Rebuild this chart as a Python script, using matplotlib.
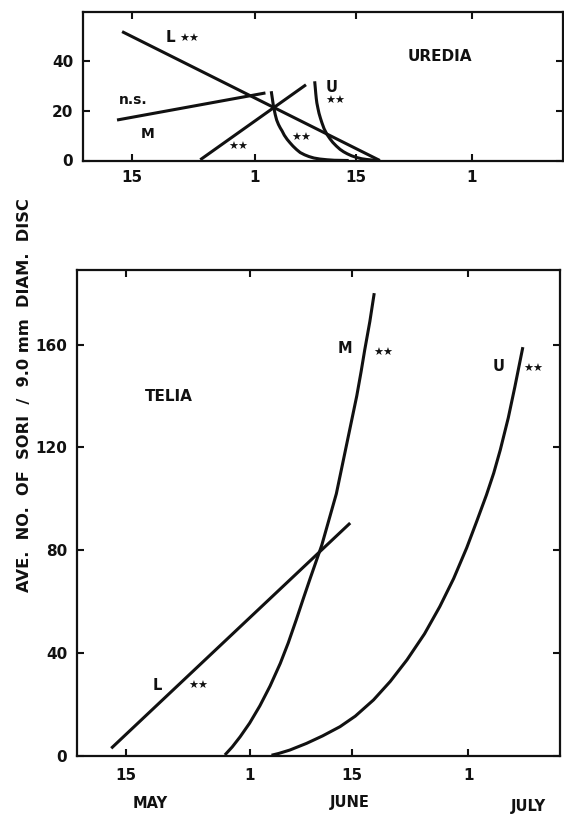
import matplotlib
matplotlib.use("Agg")
import matplotlib.pyplot as plt

# days counted from 30 April (15 = 15 May, 32 = 1 June, 46 = 15 June, 62 = 1 July)
tick_days = [15, 32, 46, 62]
tick_labels = ["15", "1", "15", "1"]
months = ["MAY", "JUNE", "JULY"]

# uredia panel
ured_L_days = [13.7, 49.3]
ured_L_vals = [51.9, 0.0]
ured_M_days = [13.0, 33.5]
ured_M_vals = [16.3, 27.2]
ured_rise_days = [24.5, 39.1]
ured_rise_vals = [0.3, 30.5]
ured_mid_days = [34.3, 34.45, 34.6, 34.85, 35.05, 35.3, 35.55, 35.8, 36.1, 36.5,
                 36.9, 37.3, 37.8, 38.3, 38.9, 39.5, 40.2, 41.0, 42.0, 43.0, 45.0]
ured_mid_vals = [27.9, 25.0, 22.0, 18.5, 16.3, 14.5, 13.1, 11.9, 10.2, 8.5,
                 7.1, 5.8, 4.4, 3.2, 2.3, 1.6, 1.0, 0.6, 0.3, 0.1, 0.0]
ured_U_days = [40.3, 40.38, 40.45, 40.52, 40.6, 40.75, 40.9, 41.1, 41.3, 41.6, 42.0,
               42.4, 42.8, 43.3, 43.8, 44.3, 44.8, 45.4, 46.1, 46.8, 47.5, 48.4, 49.3]
ured_U_vals = [31.9, 29.4, 27.0, 25.0, 23.2, 21.0, 19.0, 17.0, 15.2, 12.8, 10.5,
               8.8, 7.3, 5.8, 4.5, 3.5, 2.7, 1.9, 1.2, 0.7, 0.4, 0.15, 0.0]

# telia panel
tel_L_days = [13.0, 45.8]
tel_L_vals = [3.0, 90.6]
tel_M_days = [28.6, 29.6, 30.7, 32.0, 33.4, 34.8, 36.2, 37.3, 38.4, 39.4, 40.3, 41.1,
              41.9, 42.9, 43.9, 44.6, 45.3, 46.0, 46.7, 47.3, 47.8, 48.5, 49.1]
tel_M_vals = [0.4, 3.5, 7.5, 12.8, 19.5, 27.2, 36.0, 44.0, 53.0, 61.5, 69.0, 75.5,
              82.0, 92.0, 102.0, 111.5, 121.0, 130.5, 140.0, 149.5, 158.0, 169.0, 180.0]
tel_U_days = [35.0, 36.0, 37.5, 39.8, 42.0, 44.4, 46.5, 49.0, 51.3, 53.6, 56.0, 58.1,
              60.0, 61.8, 63.2, 64.5, 65.5, 66.4, 67.5, 68.4, 69.5]
tel_U_vals = [0.3, 1.0, 2.3, 4.9, 7.8, 11.4, 15.5, 21.8, 29.0, 37.4, 47.5, 58.1,
              69.0, 81.0, 91.5, 101.5, 110.0, 119.0, 131.5, 143.5, 159.0]

ink = "#111111"
fw = "bold"

fig = plt.figure(figsize=(5.64, 8.14), dpi=100)
fig.patch.set_facecolor("white")

ax1 = fig.add_axes([83 / 564, 1 - 160.5 / 814, 480 / 564, 149 / 814])
ax2 = fig.add_axes([77 / 564, 1 - 756 / 814, 483 / 564, 486 / 814])

for ax in (ax1, ax2):
    ax.set_xlim(8.3, 74.6)
    ax.set_xticks(tick_days)
    ax.set_xticklabels(tick_labels)
    ax.tick_params(direction="in", length=5, width=1.5, top=True, right=True,
                   labelsize=11, colors=ink, pad=7)
    for s in ax.spines.values():
        s.set_linewidth(1.6)
        s.set_color(ink)

ax1.set_ylim(0, 60)
ax1.set_yticks([0, 20, 40])
ax2.set_ylim(0, 189)
ax2.set_yticks([0, 40, 80, 120, 160])
ax2.tick_params(axis="x", pad=9)
for ax in (ax1, ax2):
    for lab in ax.get_xticklabels() + ax.get_yticklabels():
        lab.set_fontweight(fw)

lw = 2.2
line_kw = dict(color=ink, lw=lw, solid_joinstyle="round", solid_capstyle="butt")
ax1.plot(ured_L_days, ured_L_vals, **line_kw)
ax1.plot(ured_M_days, ured_M_vals, **line_kw)
ax1.plot(ured_rise_days, ured_rise_vals, **line_kw)
ax1.plot(ured_mid_days, ured_mid_vals, **line_kw)
ax1.plot(ured_U_days, ured_U_vals, **line_kw)

ax2.plot(tel_L_days, tel_L_vals, **line_kw)
ax2.plot(tel_M_days, tel_M_vals, **line_kw)
ax2.plot(tel_U_days, tel_U_vals, **line_kw)

star = "★★"
kw = dict(color=ink, fontweight=fw, ha="center", va="center")
ax1.text(20.4, 49.5, "L", fontsize=11, **kw)
ax1.text(23.0, 49.0, star, fontsize=8, **kw)
ax1.text(15.3, 24.3, "n.s.", fontsize=10, **kw)
ax1.text(17.2, 10.6, "M", fontsize=10, **kw)
ax1.text(29.7, 5.5, star, fontsize=8, **kw)
ax1.text(38.4, 9.0, star, fontsize=8, **kw)
ax1.text(42.7, 29.3, "U", fontsize=10.5, **kw)
ax1.text(43.1, 23.9, star, fontsize=8, **kw)
ax1.text(57.6, 41.7, "UREDIA", fontsize=11, **kw)

ax2.text(20.9, 139.7, "TELIA", fontsize=11, **kw)
ax2.text(45.1, 158.4, "M", fontsize=10.5, **kw)
ax2.text(50.3, 156.9, star, fontsize=8, **kw)
ax2.text(66.2, 151.4, "U", fontsize=10.5, **kw)
ax2.text(70.9, 150.6, star, fontsize=8, **kw)
ax2.text(19.3, 27.6, "L", fontsize=10.5, **kw)
ax2.text(24.9, 27.2, star, fontsize=8, **kw)

month_x = [150, 350, 528]
month_y = [803, 803, 806]
for name, mx, my in zip(months, month_x, month_y):
    fig.text(mx / 564, 1 - my / 814, name, fontsize=10.5, **kw)

fig.text(25 / 564, 1 - 395 / 814, "AVE.  NO.  OF  SORI  /  9.0 mm  DIAM.  DISC",
         rotation=90, fontsize=11.7, **kw)

fig.savefig("out.png", dpi=100, facecolor="white")
